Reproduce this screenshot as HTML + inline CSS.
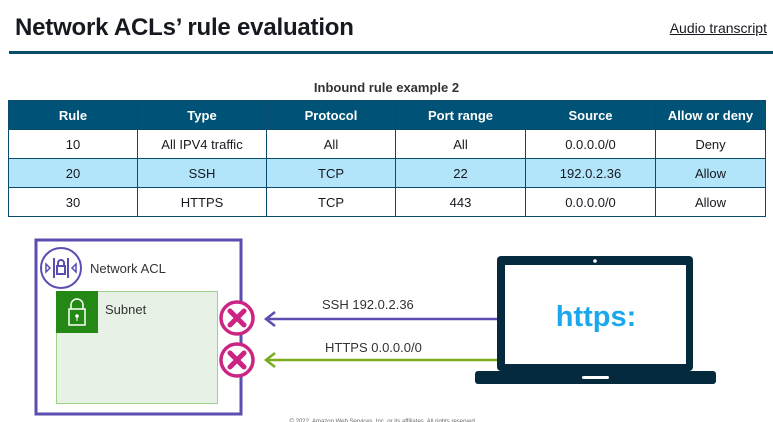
<!DOCTYPE html>
<html><head><style>
body{margin:0;width:773px;height:422px;background:#fff;font-family:"Liberation Sans",sans-serif;position:relative;overflow:hidden}
.t{position:absolute;left:15px;top:14px;font-size:24px;font-weight:bold;color:#16191f;letter-spacing:-0.2px}
.a{position:absolute;right:6px;top:20px;font-size:14px;color:#16191f;text-decoration:underline}
.hr{position:absolute;left:9px;top:51px;width:766px;height:3px;background:#0a4b6c}
.cap{position:absolute;left:0;width:773px;top:80px;text-align:center;font-size:13px;font-weight:bold;color:#333}
table{position:absolute;left:8px;top:100px;border-collapse:collapse;width:758px;font-size:13px;color:#16191f}
td,th{border:1px solid #0a4b6c;text-align:center;height:28px;padding:0}
th{background:#005276;color:#fff;font-weight:bold}
tr.b td{background:#b3e5fa}
</style></head><body>
<div class="t">Network ACLs’ rule evaluation</div>
<div class="a">Audio transcript</div>
<div class="hr"></div>
<div class="cap">Inbound rule example 2</div>
<table>
<tr><th style="width:128px">Rule</th><th style="width:128px">Type</th><th style="width:128px">Protocol</th><th style="width:129px">Port range</th><th style="width:129px">Source</th><th>Allow or deny</th></tr>
<tr><td>10</td><td>All IPV4 traffic</td><td>All</td><td>All</td><td>0.0.0.0/0</td><td>Deny</td></tr>
<tr class="b"><td>20</td><td>SSH</td><td>TCP</td><td>22</td><td>192.0.2.36</td><td>Allow</td></tr>
<tr><td>30</td><td>HTTPS</td><td>TCP</td><td>443</td><td>0.0.0.0/0</td><td>Allow</td></tr>
</table>
<svg width="773" height="422" style="position:absolute;left:0;top:0">
<rect x="36" y="240" width="205" height="174" fill="none" stroke="#5a4eb0" stroke-width="3"/>
<circle cx="61" cy="268" r="20" fill="#fff" stroke="#5a4eb0" stroke-width="2"/>
<line x1="54" y1="258" x2="54" y2="278" stroke="#5a4eb0" stroke-width="2"/>
<line x1="68" y1="258" x2="68" y2="278" stroke="#5a4eb0" stroke-width="2"/>
<rect x="57" y="266" width="8" height="8" fill="none" stroke="#5a4eb0" stroke-width="2"/>
<path d="M58 266v-3a3 3 0 0 1 6 0v3" fill="none" stroke="#5a4eb0" stroke-width="2"/>
<path d="M46 264l4 4-4 4z M76 264l-4 4 4 4z" fill="none" stroke="#5a4eb0" stroke-width="1.5"/>
<text x="90" y="273" font-size="13" fill="#333" font-family="Liberation Sans">Network ACL</text>
<rect x="56.5" y="291.5" width="161" height="112" fill="#e8f1e5" stroke="#9cd38a"/>
<rect x="56" y="291" width="42" height="42" fill="#248814"/>
<rect x="69" y="309" width="16" height="16" fill="none" stroke="#fff" stroke-width="1.5"/>
<path d="M71 309v-4a6 6 0 0 1 12 0v4" fill="none" stroke="#fff" stroke-width="1.5"/>
<circle cx="77" cy="316" r="1.8" fill="#fff"/><line x1="77" y1="317" x2="77" y2="321" stroke="#fff"/>
<text x="105" y="314" font-size="13" fill="#333" font-family="Liberation Sans">Subnet</text>
<line x1="266" y1="319" x2="497" y2="319" stroke="#5a4eb0" stroke-width="2.5"/>
<path d="M275 312l-9 7 9 7" fill="none" stroke="#5a4eb0" stroke-width="2.5"/>
<line x1="266" y1="360" x2="497" y2="360" stroke="#7aaa1e" stroke-width="2.5"/>
<path d="M275 353l-9 7 9 7" fill="none" stroke="#7aaa1e" stroke-width="2.5"/>
<text x="322" y="309" font-size="13" fill="#333" font-family="Liberation Sans">SSH 192.0.2.36</text>
<text x="325" y="352" font-size="13" fill="#333" font-family="Liberation Sans">HTTPS 0.0.0.0/0</text>
<g stroke="#cc2483" stroke-width="3.5" fill="#fff">
<circle cx="237" cy="318" r="16"/><circle cx="237" cy="360" r="16"/></g>
<g stroke="#cc2483" stroke-width="5" stroke-linecap="round">
<path d="M230 311l14 14M244 311l-14 14M230 353l14 14M244 353l-14 14"/></g>
<rect x="497" y="256" width="196" height="115" rx="4" fill="#062a3d"/>
<rect x="505" y="265" width="181" height="99" fill="#fff"/>
<circle cx="595" cy="261" r="1.8" fill="#fff"/>
<rect x="475" y="371" width="241" height="13" rx="3" fill="#062a3d"/>
<rect x="582" y="376" width="27" height="3" rx="1.5" fill="#fff"/>
<text x="596" y="326" font-size="29" font-weight="bold" fill="#1aa7ec" text-anchor="middle" font-family="Liberation Sans">https:</text>
<text x="383" y="423" font-size="6" fill="#666" text-anchor="middle" font-family="Liberation Sans">© 2022, Amazon Web Services, Inc. or its affiliates. All rights reserved.</text>
</svg>
</body></html>
